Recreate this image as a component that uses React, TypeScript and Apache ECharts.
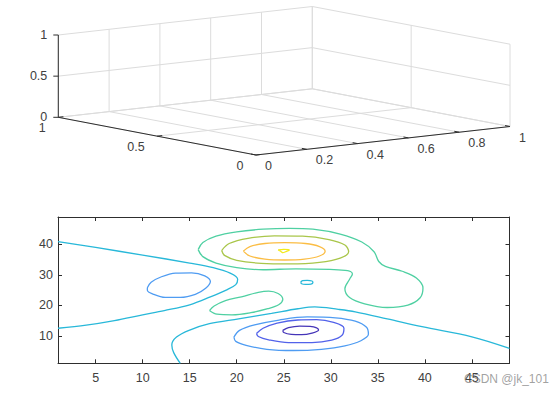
import React, { useEffect, useRef } from "react";
import * as echarts from "echarts";

// ---------- bottom contour plot ----------
const xRange = [1, 49];
const yRange = [1, 49];
const xTickValues = [5, 10, 15, 20, 25, 30, 35, 40, 45];
const yTickValues = [10, 20, 30, 40];

const levels = [-6, -4, -2, 0, 2, 4, 6, 8];
const levelColors = ["#4535b8", "#5262ea", "#4f9cf2", "#28b8d9", "#4fd0a2", "#a9c64a", "#fbbd44", "#f2ea1c"];

const levelM6 = [[24.9, 11.8], [25.5, 12.7], [26.7, 13.2], [27.8, 13.1], [28.5, 12.6], [28.7, 11.9], [28.0, 10.9], [26.9, 10.4], [25.8, 10.5], [25.0, 11.1]];
const levelM4 = [[22.1, 10.8], [22.8, 12.5], [24.3, 14.2], [26.5, 15.2], [28.5, 15.3], [30.3, 14.4], [31.4, 12.5], [31.2, 10.2], [30.1, 8.6], [28, 7.8], [25.5, 7.8], [23.4, 8.7], [22.3, 9.8]];
const levelM2Bottom = [[19.7, 9.6], [20.3, 11.8], [21.9, 13.6], [24.5, 15.2], [27.5, 16.2], [30.5, 15.9], [32.6, 14.8], [33.8, 12.8], [34.0, 10.5], [33.2, 8.4], [31.5, 6.7], [29, 5.6], [26, 5.2], [23.2, 5.6], [21.0, 6.9], [19.9, 8.2]];
const levelM2Left = [[10.5, 25.8], [10.9, 27.6], [12.0, 29.4], [13.5, 30.6], [15.2, 30.7], [16.6, 29.7], [17.2, 27.8], [16.7, 25.6], [15.6, 23.6], [14.0, 22.6], [12.4, 22.6], [11.1, 23.7], [10.5, 25.0]];
const level0Left = [[1, 40.9], [5, 39.0], [10, 36.5], [15, 33.9], [17.5, 32.4], [19.3, 30.6], [20.1, 28.6], [19.9, 26.8], [19.0, 25.2], [17.2, 22.8], [15, 20.2], [12.3, 18.3], [10, 16.9], [7, 15.0], [4, 13.5], [1, 12.5]];
const level0Bottom = [[14, 1], [13.3, 4.5], [13.1, 7.0], [13.6, 9.6], [15, 11.9], [17.1, 14.0], [20.2, 15.6], [23.7, 17.4], [26.5, 18.9], [28.3, 19.5], [30.8, 18.7], [32.6, 17.9], [36, 15.6], [39.7, 13.0], [45, 9.7], [49, 5.9]];
const level0Small = [[26.8, 27.6], [27.0, 28.1], [27.5, 28.2], [28.0, 28.0], [28.1, 27.5], [27.9, 27.0], [27.3, 26.9], [26.9, 27.1]];
const level2Mid = [[17.1, 18.3], [17.6, 19.8], [18.8, 21.6], [20.5, 22.8], [22.3, 24.3], [23.4, 24.7], [24.4, 23.9], [24.9, 22.0], [24.5, 20.3], [23.3, 18.9], [21.5, 17.6], [19.5, 16.9], [17.9, 17.1]];
const level2Top = [[15.9, 38.3], [16.4, 40.6], [17.8, 42.7], [20, 44.1], [22.8, 45.0], [25.6, 45.3], [28.1, 45.0], [31.0, 43.4], [33.3, 40.8], [34.6, 37.6], [35.1, 34.4], [35.8, 32.8], [37.6, 31.2], [39.1, 29.0], [39.8, 25.7], [39.5, 22.5], [38.2, 20.1], [36, 19.3], [33.6, 20.5], [32, 22.6], [31.5, 25.5], [32, 28.6], [32.3, 30.3], [31.8, 31.4], [29.9, 31.8], [26.3, 32.0], [22.8, 31.7], [20, 32.4], [17.8, 33.9], [16.4, 36.0]];
const level4 = [[18.4, 38.0], [19.2, 40.3], [21.2, 42.0], [24, 42.8], [27, 42.7], [29.8, 41.6], [31.5, 39.8], [31.9, 37.6], [31, 35.5], [28.8, 34.1], [25.6, 33.6], [22.6, 33.8], [20, 34.8], [18.7, 36.4]];
const level6 = [[20.7, 37.8], [21.4, 39.3], [23.0, 40.3], [25.1, 40.6], [27.3, 40.3], [28.8, 39.3], [29.4, 37.8], [28.8, 36.2], [27.2, 35.2], [25.1, 34.9], [23.0, 35.2], [21.4, 36.2]];
const level8 = [[24.4, 38.2], [25.0, 38.4], [25.6, 38.2], [25.2, 37.6], [24.9, 37.3], [24.7, 37.7]];

const contours = [
  { level: -6, points: levelM6, closed: true },
  { level: -4, points: levelM4, closed: true },
  { level: -2, points: levelM2Bottom, closed: true },
  { level: -2, points: levelM2Left, closed: true },
  { level: 0, points: level0Left, closed: false },
  { level: 0, points: level0Bottom, closed: false },
  { level: 0, points: level0Small, closed: true },
  { level: 2, points: level2Mid, closed: true },
  { level: 2, points: level2Top, closed: true },
  { level: 4, points: level4, closed: true },
  { level: 6, points: level6, closed: true },
  { level: 8, points: level8, closed: true },
];

// ---------- top empty 3-D axes ----------
const box3dXTicks = [0, 0.2, 0.4, 0.6, 0.8, 1];
const box3dYTicks = [0, 0.5, 1];
const box3dZTicks = [0, 0.5, 1];

const watermark = "CSDN @jk_101";

const FONT = '"Liberation Sans", Arial, Helvetica, sans-serif';
const TEXT_COLOR = "#404040";
const AXIS_COLOR = "#2e2e2e";
const GRID3D_COLOR = "#dcdcdc";

// orthographic projection of the unit cube (pixel layout of the 3-D box)
const ORIGIN = [256, 155];
const EX = [254, -28.5];
const EY = [-197.7, -37.7];
const EZ = [0, -82.3];
function P(x: number, y: number, z: number): [number, number] {
  return [
    ORIGIN[0] + x * EX[0] + y * EY[0] + z * EZ[0],
    ORIGIN[1] + x * EX[1] + y * EY[1] + z * EZ[1],
  ];
}

function seg(a: [number, number], b: [number, number], stroke: string, w = 1) {
  return {
    type: "line",
    silent: true,
    shape: { x1: a[0], y1: a[1], x2: b[0], y2: b[1] },
    style: { stroke, lineWidth: w },
  };
}

function txt(x: number, y: number, text: string, align: string) {
  return {
    type: "text",
    silent: true,
    x,
    y,
    style: { text, fill: TEXT_COLOR, fontSize: 12.5, fontFamily: FONT, align, verticalAlign: "middle" },
  };
}

function build3dGraphic() {
  const els: any[] = [];
  // floor grid
  box3dXTicks.forEach((x) => els.push(seg(P(x, 0, 0), P(x, 1, 0), GRID3D_COLOR)));
  box3dYTicks.forEach((y) => els.push(seg(P(0, y, 0), P(1, y, 0), GRID3D_COLOR)));
  // back wall y = 1
  box3dXTicks.forEach((x) => els.push(seg(P(x, 1, 0), P(x, 1, 1), GRID3D_COLOR)));
  box3dZTicks.forEach((z) => els.push(seg(P(0, 1, z), P(1, 1, z), GRID3D_COLOR)));
  // back wall x = 1
  box3dYTicks.forEach((y) => els.push(seg(P(1, y, 0), P(1, y, 1), GRID3D_COLOR)));
  box3dZTicks.forEach((z) => els.push(seg(P(1, 0, z), P(1, 1, z), GRID3D_COLOR)));
  // axes
  els.push(seg(P(0, 0, 0), P(1, 0, 0), AXIS_COLOR));
  els.push(seg(P(0, 0, 0), P(0, 1, 0), AXIS_COLOR));
  els.push(seg(P(0, 1, 0), P(0, 1, 1), AXIS_COLOR));
  // ticks + labels
  box3dXTicks.forEach((x) => {
    const a = P(x, 0, 0);
    const b = P(x, 0.025, 0);
    els.push(seg(a, b, AXIS_COLOR));
    els.push(txt(a[0] + 9, a[1] + 11, String(x), "left"));
  });
  box3dYTicks.forEach((y) => {
    const a = P(0, y, 0);
    const b = P(0.02, y, 0);
    els.push(seg(a, b, AXIS_COLOR));
    els.push(txt(a[0] - 12.5, a[1] + 10.5, String(y), "right"));
  });
  box3dZTicks.forEach((z) => {
    const a = P(0, 1, z);
    els.push(seg(a, [a[0] - 5, a[1]], AXIS_COLOR));
    els.push(txt(a[0] - 11, a[1] - 0.5, String(z), "right"));
  });
  // watermark
  els.push({
    type: "text",
    silent: true,
    x: 464,
    y: 378.5,
    z: 100,
    style: { text: watermark, fill: "rgba(120,120,120,0.7)", fontSize: 12, fontFamily: FONT, align: "left", verticalAlign: "middle" },
  });
  return els;
}

export default function App() {
  const ref = useRef<HTMLDivElement>(null);
  useEffect(() => {
    if (!ref.current) return;
    const chart = echarts.init(ref.current, null, { renderer: "svg" });

    const axisCommon = {
      type: "value",
      axisLine: { show: true, onZero: false, lineStyle: { color: AXIS_COLOR, width: 1 } },
      splitLine: { show: false },
    };

    const series = contours.map((c, i) => {
      const pts = c.closed ? [...c.points, c.points[0]] : c.points;
      const color = levelColors[levels.indexOf(c.level)];
      return {
        id: "c" + i,
        name: String(c.level),
        type: "line",
        data: pts,
        smooth: 0.35,
        symbol: "none",
        silent: true,
        lineStyle: { color, width: 1.3 },
        xAxisIndex: 0,
        yAxisIndex: 0,
      };
    });

    const option: any = {
      animation: false,
      backgroundColor: "#ffffff",
      grid: { left: 58, top: 217, right: 49.5, bottom: 31.7, containLabel: false },
      xAxis: [
        {
          ...axisCommon,
          position: "bottom",
          min: xRange[0],
          max: xRange[1],
          axisTick: { show: true, inside: true, length: 4, customValues: xTickValues, lineStyle: { color: AXIS_COLOR } },
          axisLabel: { show: true, customValues: xTickValues, margin: 8, color: TEXT_COLOR, fontSize: 12.5, fontFamily: FONT },
        },
        {
          ...axisCommon,
          position: "top",
          min: xRange[0],
          max: xRange[1],
          axisTick: { show: true, inside: true, length: 4, customValues: xTickValues, lineStyle: { color: AXIS_COLOR } },
          axisLabel: { show: false },
        },
      ],
      yAxis: [
        {
          ...axisCommon,
          position: "left",
          min: yRange[0],
          max: yRange[1],
          axisTick: { show: true, inside: true, length: 4, customValues: yTickValues, lineStyle: { color: AXIS_COLOR } },
          axisLabel: { show: true, customValues: yTickValues, margin: 5, color: TEXT_COLOR, fontSize: 12.5, fontFamily: FONT },
        },
        {
          ...axisCommon,
          position: "right",
          min: yRange[0],
          max: yRange[1],
          axisTick: { show: true, inside: true, length: 4, customValues: yTickValues, lineStyle: { color: AXIS_COLOR } },
          axisLabel: { show: false },
        },
      ],
      series,
      graphic: build3dGraphic(),
    };
    chart.setOption(option);
    return () => chart.dispose();
  }, []);

  return (
    <div
      ref={ref}
      style={{ width: 559, height: 395, position: "absolute", left: 0, top: 0, background: "#fff" }}
    />
  );
}
